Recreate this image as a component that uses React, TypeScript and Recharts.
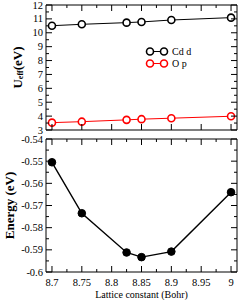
import React from 'react';
import { LineChart, Line, XAxis, YAxis, Legend } from 'recharts';

// lattice constants (Bohr) at which U_eff and energy were computed
const lattice = [8.7, 8.75, 8.825, 8.85, 8.9, 9.0];
const cdD = [10.51, 10.61, 10.73, 10.78, 10.92, 11.09];
const oP = [3.53, 3.6, 3.73, 3.78, 3.85, 3.99];
const energy = [-0.5505, -0.5735, -0.5912, -0.5933, -0.5908, -0.564];

const xMajor = [8.7, 8.75, 8.8, 8.85, 8.9, 8.95, 9];
const xMinor = [8.725, 8.775, 8.825, 8.875, 8.925, 8.975];
const uMajor = [3, 4, 5, 6, 7, 8, 9, 10, 11, 12];
const uMinor = [3.5, 4.5, 5.5, 6.5, 7.5, 8.5, 9.5, 10.5, 11.5];
const eMajor = [-0.6, -0.59, -0.58, -0.57, -0.56, -0.55, -0.54];
const eMinor = [-0.595, -0.585, -0.575, -0.565, -0.555, -0.545];

const FONT = "'Liberation Serif', serif";
const xTicks = [...xMajor, ...xMinor].sort((a, b) => a - b);
const uTicks = [...uMajor, ...uMinor].sort((a, b) => a - b);
const eTicks = [...eMajor, ...eMinor].sort((a, b) => a - b);

const upperRows = lattice.map((x, i) => ({ x, cd: cdD[i], op: oP[i] }));
const lowerRows = lattice.map((x, i) => ({ x, e: energy[i] }));

type Side = 'left' | 'right' | 'top' | 'bottom';

const isMajor = (v: number, majors: number[]) => majors.some((m) => Math.abs(m - v) < 1e-6);

// grace-style ticks: pointing into the frame, longer for majors
const tickFor = (side: Side, majors: number[], labels: boolean) => (p: any) => {
  const { x, y, payload } = p;
  const v = payload.value;
  const major = isMajor(v, majors);
  const len = major ? 6 : 3;
  let line;
  if (side === 'left') line = <line x1={x} y1={y} x2={x + len} y2={y} />;
  else if (side === 'right') line = <line x1={x} y1={y} x2={x - len} y2={y} />;
  else if (side === 'top') line = <line x1={x} y1={y} x2={x} y2={y + len} />;
  else line = <line x1={x} y1={y} x2={x} y2={y - len} />;

  let label = null;
  if (labels && major) {
    if (side === 'left') {
      label = (
        <text x={x - 3} y={y} textAnchor="end" dominantBaseline="central" style={{ fontFamily: FONT }} fontSize={10.5} fill="#000">
          {String(v)}
        </text>
      );
    } else if (side === 'bottom') {
      label = (
        <text x={x} y={y + 10} textAnchor="middle" dominantBaseline="central" style={{ fontFamily: FONT }} fontSize={10.5} fill="#000">
          {String(v)}
        </text>
      );
    }
  }
  return (
    <g>
      <g stroke="#000" strokeWidth={1}>{line}</g>
      {label}
    </g>
  );
};

const UeffLabel = (props: any) => {
  const vb = props.viewBox;
  const cx = 17;
  const cy = vb.y + vb.height / 2;
  return (
    <text
      x={cx}
      y={cy}
      transform={`rotate(-90, ${cx}, ${cy})`}
      textAnchor="middle"
      dominantBaseline="central"
      style={{ fontFamily: FONT }}
      fontWeight="bold"
      fontSize={13}
      fill="#000"
    >
      U<tspan fontSize={8} dy={3}>eff</tspan>
      <tspan fontSize={13} dy={-3}>(eV)</tspan>
    </text>
  );
};

const EnergyLabel = (props: any) => {
  const vb = props.viewBox;
  const cx = 9;
  const cy = vb.y + vb.height / 2;
  return (
    <text
      x={cx}
      y={cy}
      transform={`rotate(-90, ${cx}, ${cy})`}
      textAnchor="middle"
      dominantBaseline="central"
      style={{ fontFamily: FONT }}
      fontWeight="bold"
      fontSize={13}
      fill="#000"
    >
      Energy (eV)
    </text>
  );
};

const LegendBox = (props: any) => {
  const items = props.payload || [];
  return (
    <svg width={70} height={28}>
      {items.map((it: any, i: number) => {
        const y = 7.5 + i * 12;
        return (
          <g key={it.value}>
            <line x1={10} y1={y} x2={24} y2={y} stroke={it.color} strokeWidth={1} />
            <circle cx={10} cy={y} r={3.5} fill="#fff" stroke={it.color} strokeWidth={1.6} />
            <circle cx={24} cy={y} r={3.5} fill="#fff" stroke={it.color} strokeWidth={1.6} />
            <text x={32} y={y} dominantBaseline="central" style={{ fontFamily: FONT }} fontSize={10} fill="#000">
              {it.value}
            </text>
          </g>
        );
      })}
    </svg>
  );
};

const X_DOMAIN: [number, number] = [8.69, 9.01];

export default function App() {
  return (
    <div style={{ position: 'absolute', left: 0, top: 0, width: 240, height: 300, background: '#fff' }}>
      <div style={{ position: 'absolute', left: 0, top: 0 }}>
        <LineChart width={240} height={135} data={upperRows} margin={{ top: 4, right: 0, bottom: 0, left: 0 }}>
          <XAxis
            dataKey="x"
            type="number"
            domain={X_DOMAIN}
            allowDataOverflow
            ticks={xMajor}
            interval={0}
            height={5}
            tickSize={0}
            tickMargin={0}
            tickLine={false}
            stroke="#000"
            tick={tickFor('bottom', xMajor, false)}
          />
          <XAxis
            xAxisId="top"
            orientation="top"
            dataKey="x"
            type="number"
            domain={X_DOMAIN}
            allowDataOverflow
            ticks={xTicks}
            interval={0}
            height={1}
            tickSize={0}
            tickMargin={0}
            tickLine={false}
            stroke="#000"
            tick={tickFor('top', xMajor, false)}
          />
          <YAxis
            type="number"
            domain={[3, 12]}
            allowDataOverflow
            ticks={uTicks}
            interval={0}
            width={46}
            tickSize={0}
            tickMargin={0}
            tickLine={false}
            stroke="#000"
            tick={tickFor('left', uMajor, true)}
            label={UeffLabel}
          />
          <YAxis
            yAxisId="right"
            orientation="right"
            type="number"
            domain={[3, 12]}
            allowDataOverflow
            ticks={uTicks}
            interval={0}
            width={3}
            tickSize={0}
            tickMargin={0}
            tickLine={false}
            stroke="#000"
            tick={tickFor('right', uMajor, false)}
          />
          <Legend
            layout="horizontal"
            verticalAlign="middle"
            align="center"
            content={LegendBox}
            wrapperStyle={{ left: 140, top: 44, width: 70, height: 28 }}
          />
          <Line
            dataKey="cd"
            name="Cd d"
            stroke="#000"
            strokeWidth={1}
            dot={{ r: 3.5, fill: '#fff', stroke: '#000', strokeWidth: 1.6 }}
            isAnimationActive={false}
          />
          <Line
            dataKey="op"
            name="O p"
            stroke="#ff0000"
            strokeWidth={1}
            dot={{ r: 3.5, fill: '#fff', stroke: '#ff0000', strokeWidth: 1.6 }}
            isAnimationActive={false}
          />
        </LineChart>
      </div>
      <div style={{ position: 'absolute', left: 0, top: 125 }}>
        <LineChart width={240} height={175} data={lowerRows} margin={{ top: 13, right: 0, bottom: 0, left: 0 }}>
          <XAxis
            dataKey="x"
            type="number"
            domain={X_DOMAIN}
            allowDataOverflow
            ticks={xTicks}
            interval={0}
            height={28}
            tickSize={0}
            tickMargin={0}
            tickLine={false}
            stroke="#000"
            tick={tickFor('bottom', xMajor, true)}
            label={{
              value: 'Lattice constant (Bohr)',
              position: 'insideBottom',
              offset: 2,
              style: { fontFamily: FONT, fontSize: 10, fill: '#000' },
            }}
          />
          <XAxis
            xAxisId="top"
            orientation="top"
            dataKey="x"
            type="number"
            domain={X_DOMAIN}
            allowDataOverflow
            ticks={xTicks}
            interval={0}
            height={1}
            tickSize={0}
            tickMargin={0}
            tickLine={false}
            stroke="#000"
            tick={tickFor('top', xMajor, false)}
          />
          <YAxis
            type="number"
            domain={[-0.6, -0.54]}
            allowDataOverflow
            ticks={eTicks}
            interval={0}
            width={46}
            tickSize={0}
            tickMargin={0}
            tickLine={false}
            stroke="#000"
            tick={tickFor('left', eMajor, true)}
            label={EnergyLabel}
          />
          <YAxis
            yAxisId="right"
            orientation="right"
            type="number"
            domain={[-0.6, -0.54]}
            allowDataOverflow
            ticks={eTicks}
            interval={0}
            width={3}
            tickSize={0}
            tickMargin={0}
            tickLine={false}
            stroke="#000"
            tick={tickFor('right', eMajor, false)}
          />
          <Line
            dataKey="e"
            stroke="#000"
            strokeWidth={1.4}
            dot={{ r: 3.8, fill: '#000', stroke: '#000', strokeWidth: 1 }}
            isAnimationActive={false}
          />
        </LineChart>
      </div>
    </div>
  );
}
